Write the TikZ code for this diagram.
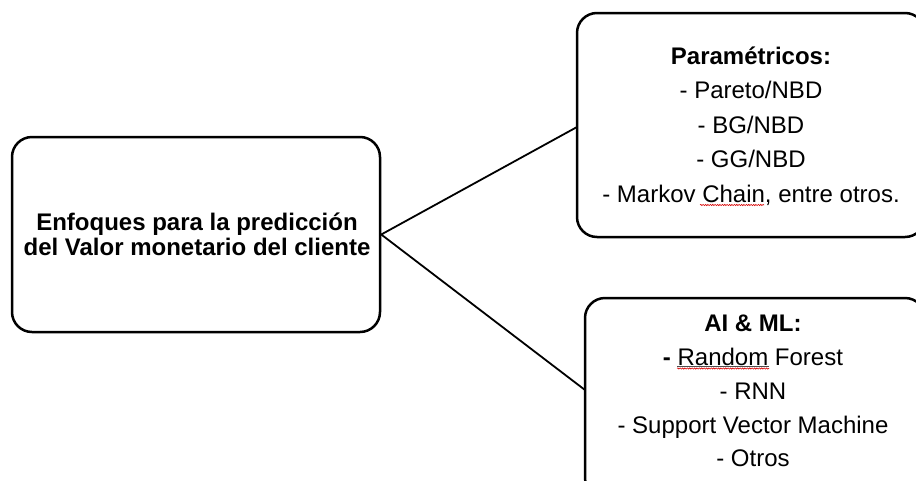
\documentclass[tikz,border=0pt]{standalone}
\usepackage{fontspec}
\setmainfont{Liberation Sans}
\usetikzlibrary{decorations.pathmorphing}
\begin{document}
\begin{tikzpicture}[x=1pt,y=-1pt,
  box/.style={draw=black,line width=2.5pt,rounded corners=20pt,inner sep=0pt},
  conn/.style={draw=black,line width=1.8pt},
  txt/.style={anchor=base,inner sep=0pt,font=\fontsize{24}{25}\selectfont},
  btxt/.style={txt,font=\fontsize{24}{25}\selectfont\bfseries},
  spell/.style={draw=red!85!black,line width=0.6pt,decorate,decoration={snake,amplitude=0.6pt,segment length=2.4pt}}]
\useasboundingbox (0,0) rectangle (916,480);
\clip (0,0) rectangle (916,480);
\fill[white] (0,0) rectangle (916,480);
% boxes
\node[box,minimum width=368pt,minimum height=195pt] (main) at (196,234.5) {};
\node[box,minimum width=348pt,minimum height=224pt] (param) at (751,125) {};
\node[box,minimum width=340pt,minimum height=200pt] (ai) at (755,398) {};
% connectors
\coordinate (pin) at (577,127);
\coordinate (ain) at (585,390);
\draw[conn] (pin) -- (main.east) -- (ain);
% main text
\node[btxt] (m1) at (197,230) {Enfoques para la predicción};
\node[btxt] (m2) at (197,255) {del Valor monetario del cliente};
% parametric text
\node[btxt] (p1) at (751,64) {Paramétricos:};
\node[txt] (p2) at (751,98.5) {- Pareto/NBD};
\node[txt] (p3) at (751,133) {- BG/NBD};
\node[txt] (p4) at (751,167.5) {- GG/NBD};
\node[txt] (p5) at (751,202) {- Markov Chain, entre otros.};
% AI text
\node[btxt] (a1) at (753,331.7) {AI \& ML:};
\node[txt] (a2) at (753,365) {\textbf{-} Random Forest};
\node[txt] (a3) at (753,399.3) {- RNN};
\node[txt] (a4) at (753,433.3) {- Support Vector Machine};
\node[txt] (a5) at (753,466.7) {- Otros};
% spell-check marks
\draw[spell] (700,205) -- (764,205);
\draw[black!70,line width=0.7pt] (677,366.5) -- (769,366.5);
\draw[spell] (677,368.5) -- (769,368.5);
\end{tikzpicture}
\end{document}
